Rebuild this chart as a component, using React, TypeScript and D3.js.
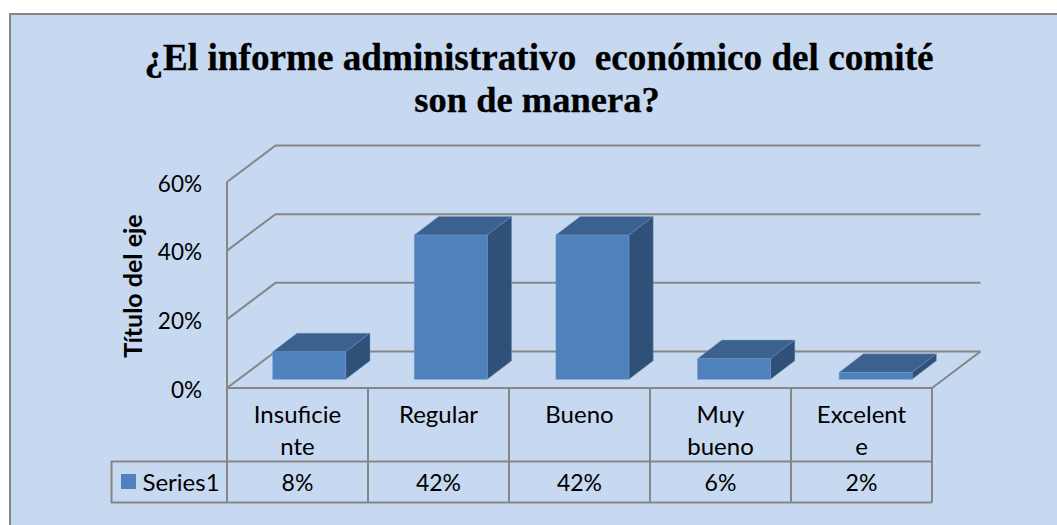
import React from 'react';
import * as d3 from 'd3';

const categoryLines = [['Insuficie', 'nte'], ['Regular'], ['Bueno'], ['Muy', 'bueno'], ['Excelent', 'e']];
const categoryNames = ['Insuficiente', 'Regular', 'Bueno', 'Muy bueno', 'Excelente'];
const seriesName = 'Series1';
const seriesValues = [8, 42, 42, 6, 2];
const valueLabels = ['8%', '42%', '42%', '6%', '2%'];
const yTicks = [0, 20, 40, 60];
const titleLines = ['¿El informe administrativo  económico del comité', 'son de manera?'];
const yTitle = 'Título del eje';

const width = 1057;
const height = 525;
const left = 227;
const right = 932;
const floorY = 388;
const topY = 182;
const depthX = 48.5;
const depthY = 36.5;
const barDepthX = 24.3;
const barDepthY = 18.6;
const barOffsetY = 8.7;
const row1 = 461.5;
const row2 = 502.5;
const legendLeft = 111.5;

const bg = '#c6d9f1';
const gridColor = '#868686';
const front = '#4f81bd';
const topFace = '#3c618f';
const sideFace = '#2f5077';
const labelFont = 'Lato, Carlito, sans-serif';

export default function App() {
  const ids = d3.range(categoryNames.length);
  const x = d3.scaleBand<number>().domain(ids).range([left, right]);
  // bars sit a little further back than the table, so their spacing is slightly wider
  const xBar = d3.scaleBand<number>().domain(ids).range([238.4, 946.4]);
  const y = d3.scaleLinear().domain([0, 60]).range([floorY, topY]);
  const barWidth = 73;
  const inset = (xBar.bandwidth() - barWidth) / 2;
  const line = d3.line();

  return (
    <svg
      width={width}
      height={height}
      style={{ position: 'absolute', left: 0, top: 0, display: 'block', background: '#fff' }}
    >
      {/* the frame runs off the right and bottom of the picture */}
      <rect x={10} y={14} width={1070} height={530} fill={bg} stroke={gridColor} strokeWidth={2} />

      {titleLines.map((t, i) => (
        <text
          key={i}
          x={i === 0 ? 539 : 537}
          y={69.5 + i * 42}
          textAnchor="middle"
          fontFamily="'Liberation Serif', serif"
          fontWeight="bold"
          fontSize={i === 0 ? 37.2 : 36.5}
          stroke="#000"
          strokeWidth={0.3}
          xmlSpace="preserve"
          fill="#000"
        >
          {t}
        </text>
      ))}

      {/* walls and gridlines */}
      <g fill="none" stroke={gridColor} strokeWidth={2}>
        {yTicks.map(t => (
          <path
            key={t}
            d={line([
              [left, y(t)],
              [left + depthX, y(t) - depthY],
              [right + depthX, y(t) - depthY],
            ]) as string}
          />
        ))}
        <path d={line([[left, y(0)], [left, y(60)]]) as string} />
        <path d={line([[right, y(0)], [right + depthX, y(0) - depthY]]) as string} />
      </g>

      {/* bars */}
      {seriesValues.map((v, i) => {
        const x0 = (xBar(i) as number) + inset;
        const x1 = x0 + barWidth;
        const base = floorY - barOffsetY;
        const top = base - (y(0) - y(v));
        const dx = barDepthX;
        const dy = barDepthY;
        return (
          <g key={categoryNames[i]} stroke="#6f97c9" strokeOpacity={0.55} strokeWidth={0.8}>
            <path
              fill={topFace}
              d={line([[x0, top], [x0 + dx, top - dy], [x1 + dx, top - dy], [x1, top]]) + 'Z'}
            />
            <path
              fill={sideFace}
              d={line([[x1, base], [x1 + dx, base - dy], [x1 + dx, top - dy], [x1, top]]) + 'Z'}
            />
            <rect x={x0} y={top} width={barWidth} height={base - top} fill={front} />
          </g>
        );
      })}

      {/* front floor edge and data table */}
      <g fill="none" stroke={gridColor} strokeWidth={2} strokeLinejoin="round">
        <path d={line([[left, floorY], [right, floorY]]) as string} />
        <path
          d={line([
            [right, row1],
            [legendLeft, row1],
            [legendLeft, row2],
            [right, row2],
          ]) as string}
        />
        {d3.range(categoryNames.length + 1).map(i => {
          const px = i === categoryNames.length ? right : (x(i) as number);
          return <path key={i} d={line([[px, floorY], [px, row2]]) as string} />;
        })}
      </g>

      {/* y axis labels */}
      <g fontFamily={labelFont} fontSize={22.5} fill="#000" textAnchor="end">
        {yTicks.map(t => (
          <text key={t} x={202} y={y(t) + 9.5}>
            {t}%
          </text>
        ))}
      </g>
      <text
        transform="translate(141.5,286) rotate(-90)"
        textAnchor="middle"
        fontFamily={labelFont}
        fontWeight="bold"
        fontSize={25}
        fill="#000"
      >
        {yTitle}
      </text>

      {/* table text */}
      <g fontFamily={labelFont} fontSize={24} fill="#000" textAnchor="middle">
        {categoryLines.map((lines, i) =>
          lines.map((l, j) => (
            <text key={j} x={(x(i) as number) + x.bandwidth() / 2} y={422.5 + j * 32}>
              {l}
            </text>
          )),
        )}
      </g>
      <g fontFamily={labelFont} fontSize={23} fill="#000" textAnchor="middle">
        {valueLabels.map((l, i) => (
          <text key={l + i} x={(x(i) as number) + x.bandwidth() / 2} y={490.5}>
            {l}
          </text>
        ))}
      </g>
      <rect x={121} y={474} width={15} height={15} fill={front} />
      <text x={142.5} y={490.5} fontFamily={labelFont} fontSize={24} fill="#000">
        {seriesName}
      </text>
    </svg>
  );
}
